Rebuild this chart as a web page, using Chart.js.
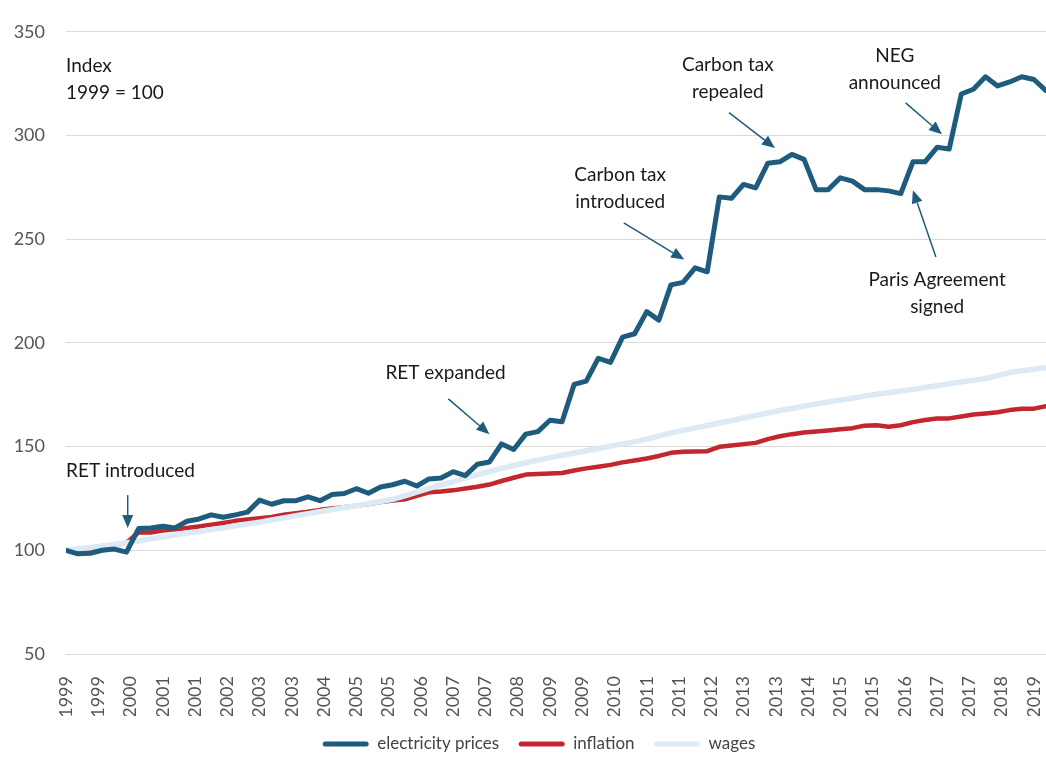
<!DOCTYPE html>
<html>
<head>
<meta charset="utf-8">
<script src="https://cdn.jsdelivr.net/npm/chart.js@4.4.1/dist/chart.umd.min.js"></script>
<style>
  html, body { margin: 0; padding: 0; background: #fff; }
</style>
</head>
<body>
<canvas id="chart" width="1046" height="757"></canvas>
<script>
// Quarterly index, 1999 = 100 (first point is Q1 1999)
// Axis labels sit every 8 months (8/3 quarters)
const tickLabels = [
  '1999', '1999', '2000', '2001', '2001', '2002', '2003', '2003', '2004', '2005', '2005',
  '2006', '2007', '2007', '2008', '2009', '2009', '2010', '2011', '2011', '2012', '2013',
  '2013', '2014', '2015', '2015', '2016', '2017', '2017', '2018', '2019'
];

const electricity = [
  100, 98.3, 98.6, 100, 100.6, 99.1, 110.5, 110.8, 111.6, 110.8,
  114, 115.1, 117.1, 115.9, 117.1, 118.4, 124.2, 122.2, 123.9, 123.9,
  125.8, 123.9, 126.9, 127.4, 129.7, 127.5, 130.5, 131.6, 133.3, 131,
  134.4, 134.9, 137.9, 136, 141.5, 142.6, 151.3, 148.6, 156, 157.2,
  162.7, 162, 180, 181.6, 192.6, 190.6, 202.8, 204.4, 215.1, 211,
  228, 229.2, 236.2, 234.3, 270.4, 269.7, 276.4, 274.7, 286.6, 287.3,
  290.9, 288.5, 273.9, 273.9, 279.6, 278, 273.9, 273.9, 273.3, 272,
  287.3, 287.3, 294.3, 293.5, 320, 322.3, 328.3, 323.9, 325.8, 328.3,
  327, 321.6
];

const inflation = [
  100, 100.4, 101.1, 101.5, 102.5, 103.5, 108.7, 108.6, 109.5, 110.1,
  110.8, 111.5, 112.3, 113.2, 114.2, 114.8, 115.4, 116.1, 117.2, 117.9,
  118.6, 119.5, 120.1, 120.8, 121.5, 122.3, 123.3, 124, 124.6, 126.3,
  128, 128.3, 128.9, 129.8, 130.6, 131.7, 133.4, 135, 136.5, 136.8,
  137, 137.3, 138.5, 139.5, 140.3, 141.2, 142.4, 143.3, 144.3, 145.5,
  147, 147.5, 147.6, 147.8, 149.9, 150.5, 151.2, 151.8, 153.6, 155,
  156, 156.8, 157.3, 157.8, 158.4, 158.9, 160.1, 160.3, 159.6, 160.3,
  161.8, 162.8, 163.5, 163.6, 164.5, 165.5, 166, 166.6, 167.6, 168.2,
  168.3, 169.5
];

const wages = [
  100, 100.7, 101.4, 102.1, 102.8, 103.5, 104.5, 105.5, 106.4, 107.4,
  108.3, 109.1, 110, 110.8, 111.8, 112.7, 113.6, 114.6, 115.6, 116.7,
  117.7, 118.7, 119.6, 120.6, 121.5, 122.5, 123.5, 124.6, 126.3, 128,
  129.8, 131.5, 133, 134.8, 136.5, 138, 139.5, 140.9, 142.2, 143.5,
  144.7, 145.8, 146.9, 148, 149.1, 150.2, 151.3, 152.4, 153.6, 155.1,
  156.6, 157.8, 159, 160.2, 161.4, 162.6, 163.8, 165, 166.2, 167.4,
  168.4, 169.5, 170.5, 171.5, 172.4, 173.3, 174.4, 175.2, 176, 176.8,
  177.6, 178.5, 179.3, 180.3, 181.2, 182, 182.8, 184.2, 185.7, 186.6,
  187.3, 188
];

// Annotations, in chart units (x = quarter number, y = index value of first text baseline)
const notes = [
  { lines: ['Index', '1999 = 100'], x: 0, y: 330.5, align: 'left' },
  { lines: ['RET introduced'], x: 0, y: 135.4, align: 'left', arrow: [5.1, 126.6, 5.1, 110.8] },
  { lines: ['RET expanded'], x: 26.4, y: 182.4, align: 'left', arrow: [31.6, 173, 35.0, 156] },
  { lines: ['Carbon tax', 'introduced'], x: 45.8, y: 278.1, align: 'center', arrow: [46.1, 257.9, 51.1, 240.2] },
  { lines: ['Carbon tax', 'repealed'], x: 54.7, y: 331, align: 'center', arrow: [54.8, 311, 58.6, 294] },
  { lines: ['NEG', 'announced'], x: 68.5, y: 335.4, align: 'center', arrow: [69.4, 315.7, 72.4, 300.6] },
  { lines: ['Paris Agreement', 'signed'], x: 72, y: 227.2, align: 'center', arrow: [71.9, 241.4, 70.0, 273.6] },
];

const COLORS = {
  electricity: '#1f5b7c',
  inflation: '#c3262e',
  wages: '#dbeaf5',
  grid: '#d9d9d9',
  tick: '#555555',
  note: '#1a1a1a',
};
const FONT = 'Lato';

const toPoints = (arr) => arr.map((v, i) => ({ x: i, y: v }));

function drawArrow(ctx, x1, y1, x2, y2) {
  const ang = Math.atan2(y2 - y1, x2 - x1);
  const head = 13, half = 5.5;
  const bx = x2 - head * Math.cos(ang);
  const by = y2 - head * Math.sin(ang);
  ctx.beginPath();
  ctx.moveTo(x1, y1);
  ctx.lineTo(bx, by);
  ctx.stroke();
  ctx.beginPath();
  ctx.moveTo(x2, y2);
  ctx.lineTo(bx + half * Math.sin(ang), by - half * Math.cos(ang));
  ctx.lineTo(bx - half * Math.sin(ang), by + half * Math.cos(ang));
  ctx.closePath();
  ctx.fill();
}

const notesPlugin = {
  id: 'notes',
  // nudge the legend a bit right, as in the source chart
  afterLayout(chart) {
    if (chart.legend) chart.legend.left += 32;
  },
  afterDatasetsDraw(chart) {
    const { ctx, scales: { x, y } } = chart;
    ctx.save();
    ctx.font = `19px ${FONT}`;
    ctx.fillStyle = COLORS.note;
    ctx.textBaseline = 'alphabetic';
    notes.forEach(n => {
      ctx.textAlign = n.align;
      const px = x.getPixelForValue(n.x);
      const py = y.getPixelForValue(n.y);
      n.lines.forEach((line, k) => ctx.fillText(line, px, py + k * 27));
    });
    ctx.strokeStyle = COLORS.electricity;
    ctx.fillStyle = COLORS.electricity;
    ctx.lineWidth = 1.5;
    notes.filter(n => n.arrow).forEach(n => {
      const [ax, ay, bx, by] = n.arrow;
      drawArrow(ctx, x.getPixelForValue(ax), y.getPixelForValue(ay),
        x.getPixelForValue(bx), y.getPixelForValue(by));
    });
    ctx.restore();
  }
};

const lineStyle = { pointRadius: 0, tension: 0, borderCapStyle: 'round', borderJoinStyle: 'round' };

new Chart(document.getElementById('chart'), {
  type: 'line',
  data: {
    datasets: [
      { label: 'electricity prices', data: toPoints(electricity), borderColor: COLORS.electricity,
        backgroundColor: COLORS.electricity, borderWidth: 5, order: 0, ...lineStyle },
      { label: 'inflation', data: toPoints(inflation), borderColor: COLORS.inflation,
        backgroundColor: COLORS.inflation, borderWidth: 4.5, order: 2, ...lineStyle },
      { label: 'wages', data: toPoints(wages), borderColor: COLORS.wages,
        backgroundColor: COLORS.wages, borderWidth: 5.5, order: 1, ...lineStyle },
    ]
  },
  options: {
    responsive: false,
    animation: false,
    layout: { padding: { top: 18, right: 0, left: 0, bottom: -5.5 } },
    plugins: {
      tooltip: { enabled: false },
      legend: {
        position: 'bottom',
        labels: {
          boxWidth: 46,
          boxHeight: 5,
          padding: 19.5,
          color: '#444444',
          font: { family: FONT, size: 17 },
          sort: (a, b) => a.datasetIndex - b.datasetIndex,
          generateLabels: (chart) => Chart.defaults.plugins.legend.labels.generateLabels(chart).map(item => ({
            ...item, fillStyle: item.strokeStyle, lineWidth: 0, borderRadius: 2.5,
          })),
        }
      }
    },
    scales: {
      x: {
        type: 'linear',
        min: 0,
        max: electricity.length - 1,
        grid: { display: false },
        border: { display: false },
        afterBuildTicks: (s) => { s.ticks = tickLabels.map((_, n) => ({ value: n * 8 / 3 })); },
        afterFit: (s) => { s.height = 62; s.paddingLeft = 0; s.paddingRight = 0; },
        ticks: {
          autoSkip: false,
          minRotation: 90,
          maxRotation: 90,
          padding: 14,
          color: COLORS.tick,
          font: { family: FONT, size: 18 },
          callback: (v, i) => tickLabels[i],
        }
      },
      y: {
        min: 50,
        max: 350,
        grid: { color: COLORS.grid, drawTicks: false, lineWidth: 1 },
        border: { display: false },
        afterFit: (s) => { s.width = 66; },
        ticks: {
          stepSize: 50,
          padding: 21,
          color: COLORS.tick,
          font: { family: FONT, size: 18 },
        }
      }
    }
  },
  plugins: [notesPlugin]
});
</script>
</body>
</html>
